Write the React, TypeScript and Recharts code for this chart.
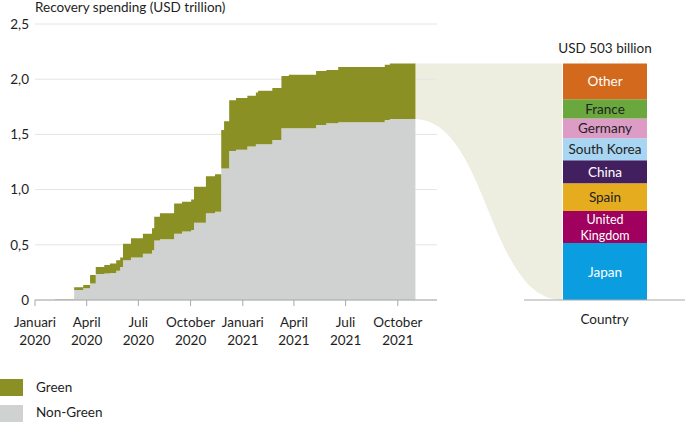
import React from "react";
import {
  ComposedChart,
  Area,
  XAxis,
  YAxis,
  CartesianGrid,
  BarChart,
  Bar,
  LabelList,
} from "recharts";

// cumulative recovery spending, USD trillion (step dates)
const dates = [
  "2020-02-05", "2020-03-10", "2020-03-26", "2020-04-07", "2020-04-17",
  "2020-05-02", "2020-05-12", "2020-05-23", "2020-05-30", "2020-06-04",
  "2020-06-18", "2020-07-09", "2020-07-25", "2020-07-29", "2020-08-08",
  "2020-09-02", "2020-09-16", "2020-10-02", "2020-10-07", "2020-10-28",
  "2020-11-13", "2020-11-24", "2020-11-29", "2020-12-08", "2020-12-20",
  "2021-01-09", "2021-01-24", "2021-01-28", "2021-02-22", "2021-03-10",
  "2021-03-23", "2021-05-10", "2021-05-28", "2021-06-18", "2021-09-08",
  "2021-09-17", "2021-11-01",
];
const nonGreen = [
  0.004, 0.09, 0.106, 0.15, 0.235,
  0.24, 0.245, 0.265, 0.3, 0.36,
  0.385, 0.42, 0.45, 0.54, 0.55,
  0.6, 0.62, 0.635, 0.7, 0.785,
  0.8, 1.19, 1.19, 1.35, 1.36,
  1.39, 1.41, 1.41, 1.45, 1.555,
  1.555, 1.585, 1.6, 1.61, 1.63,
  1.64, 1.64,
];
const green = [
  0.002, 0.025, 0.03, 0.076, 0.065,
  0.077, 0.085, 0.095, 0.085, 0.15,
  0.175, 0.18, 0.2, 0.215, 0.235,
  0.275, 0.27, 0.275, 0.325, 0.335,
  0.34, 0.35, 0.43, 0.46, 0.47,
  0.46, 0.47, 0.485, 0.47, 0.475,
  0.485, 0.49, 0.483, 0.5, 0.5,
  0.503, 0.503,
];

const axisStart = "2020-01-01";
const axisEnd = "2021-12-09";
const tickDates = [
  "2020-01-01", "2020-04-01", "2020-07-01", "2020-10-01",
  "2021-01-01", "2021-04-01", "2021-07-01", "2021-10-01",
];
const tickMonths = ["Januari", "April", "Juli", "October", "Januari", "April", "Juli", "October"];
const tickYears = ["2020", "2020", "2020", "2020", "2021", "2021", "2021", "2021"];
const yTicks = [0, 0.5, 1, 1.5, 2, 2.5];

// green spending by country, USD billion (bottom to top)
const countries = ["Japan", "United Kingdom", "Spain", "China", "South Korea", "Germany", "France", "Other"];
const countryValues = [121, 68, 59, 49, 47, 42, 41, 76];
const countryColors = ["#0a9ee0", "#a0005e", "#e6ac20", "#42205f", "#a8d5f2", "#dd9cc6", "#6aa83e", "#d2691c"];
const countryText = ["#fff", "#fff", "#222", "#fff", "#222", "#222", "#222", "#fff"];

const GREEN = "#8a9023";
const GREY = "#d0d2d1";
const BEIGE = "#eeeee0";
const TEXT = "#1e1e1e";
const AXIS = "#a8a8a8";
const FONT = "Lato, sans-serif";
const FS = 13.5;

const day = (s: string) => (Date.parse(s) - Date.parse(axisStart)) / 86400000;

const areaData = dates.map((d, i) => ({ t: day(d), nonGreen: nonGreen[i], green: green[i] }));
const tickDays = tickDates.map(day);

const lastNonGreen = nonGreen[nonGreen.length - 1];
const lastTotal = lastNonGreen + green[green.length - 1];
const greenTotal = countryValues.reduce((a, b) => a + b, 0);

const barRow: Record<string, number | string> = { name: "Country" };
countries.forEach((c, i) => (barRow[c] = countryValues[i]));
const barData = [barRow];

// funnel between the last step of the area and the bar
const funnelData = [
  { x: 0, range: [lastNonGreen, lastTotal] },
  { x: 1, range: [0, lastTotal] },
];

// layout
const CH = 360;
const TOP = 24;
const X_AXIS_H = 60;
const LEFT_W = 445;
const Y_AXIS_W = 35;
const LEFT_MR = 8;
const BAR_LEFT = 500;
const BAR_W = 185;
const BAR_ML = 24;
const BAR_SIZE = 84;

const plotW = LEFT_W - Y_AXIS_W - LEFT_MR;
const funnelLeft = Y_AXIS_W + (day(dates[dates.length - 1]) / day(axisEnd)) * plotW;
const funnelRight = BAR_LEFT + BAR_ML + (BAR_W - BAR_ML - BAR_SIZE) / 2;

const DateTick = (props: any) => {
  const { x, y, payload } = props;
  const i = tickDays.indexOf(payload.value);
  return (
    <g>
      <text x={x} y={y + 19} textAnchor="middle" fontSize={FS} fill={TEXT}>
        {tickMonths[i]}
      </text>
      <text x={x} y={y + 37} textAnchor="middle" fontSize={FS} fill={TEXT}>
        {tickYears[i]}
      </text>
    </g>
  );
};

const countryLabel = (idx: number) => (props: any) => {
  const { x, y, width, height } = props;
  const cx = x + width / 2;
  const cy = y + height / 2;
  const name = countries[idx];
  if (name === "United Kingdom") {
    return (
      <text x={cx} y={cy - 3} textAnchor="middle" fontSize={12.5} fill={countryText[idx]}>
        <tspan x={cx}>United</tspan>
        <tspan x={cx} dy={15.5}>Kingdom</tspan>
      </text>
    );
  }
  return (
    <text
      x={cx}
      y={cy}
      textAnchor="middle"
      dominantBaseline="central"
      fontSize={FS}
      fill={countryText[idx]}
    >
      {name}
    </text>
  );
};

const totalLabel = (props: any) => {
  const { x, y, width } = props;
  return (
    <text x={x + width / 2} y={y - 10} textAnchor="middle" fontSize={FS} fill={TEXT}>
      {`USD ${greenTotal} billion`}
    </text>
  );
};

export default function App() {
  return (
    <div style={{ position: "relative", width: 685, height: 422, fontFamily: FONT, overflow: "hidden" }}>
      <style>{"body{margin:0}"}</style>

      <div style={{ position: "absolute", left: funnelLeft - 1, top: TOP, width: funnelRight - funnelLeft + 1 }}>
        <ComposedChart
          width={funnelRight - funnelLeft + 1}
          height={CH - TOP - X_AXIS_H}
          data={funnelData}
          margin={{ top: 0, right: 0, bottom: 0, left: 0 }}
        >
          <XAxis dataKey="x" type="number" domain={[0, 1]} hide />
          <YAxis type="number" domain={[0, 2.5]} hide />
          <Area
            dataKey="range"
            type="bumpX"
            fill={BEIGE}
            fillOpacity={1}
            stroke="none"
            isAnimationActive={false}
          />
        </ComposedChart>
      </div>

      <div style={{ position: "absolute", left: 0, top: 0 }}>
        <ComposedChart
          width={LEFT_W}
          height={CH}
          data={areaData}
          margin={{ top: TOP, right: LEFT_MR, bottom: 0, left: 0 }}
        >
          <CartesianGrid vertical={false} stroke="#e4e4e4" />
          <XAxis
            dataKey="t"
            type="number"
            domain={[0, day(axisEnd)]}
            ticks={tickDays}
            interval={0}
            height={X_AXIS_H}
            stroke={AXIS}
            tickSize={6}
            tick={<DateTick />}
          />
          <YAxis
            domain={[0, 2.5]}
            ticks={yTicks}
            width={Y_AXIS_W}
            axisLine={false}
            tickLine={false}
            tickSize={4}
            tickMargin={2}
            tick={{ fontSize: FS, fill: TEXT }}
            tickFormatter={(v: number) => (v === 0 ? "0" : v.toFixed(1).replace(".", ","))}
          />
          <Area
            dataKey="nonGreen"
            stackId="s"
            type="stepAfter"
            fill={GREY}
            fillOpacity={1}
            stroke="none"
            isAnimationActive={false}
          />
          <Area
            dataKey="green"
            stackId="s"
            type="stepAfter"
            fill={GREEN}
            fillOpacity={1}
            stroke="none"
            isAnimationActive={false}
          />
        </ComposedChart>
      </div>

      <div style={{ position: "absolute", left: BAR_LEFT, top: 0 }}>
        <BarChart
          width={BAR_W}
          height={CH}
          data={barData}
          margin={{ top: TOP, right: 0, bottom: 0, left: BAR_ML }}
        >
          <XAxis
            dataKey="name"
            height={X_AXIS_H}
            stroke={AXIS}
            tickLine={false}
            tickMargin={8}
            tick={{ fontSize: FS, fill: TEXT }}
          />
          <YAxis hide domain={[0, (greenTotal * 2.5) / lastTotal]} />
          {countries.map((c, i) => (
            <Bar
              key={c}
              dataKey={c}
              stackId="c"
              fill={countryColors[i]}
              barSize={BAR_SIZE}
              isAnimationActive={false}
            >
              <LabelList dataKey={c} content={countryLabel(i)} />
              {i === countries.length - 1 && <LabelList dataKey={c} content={totalLabel} />}
            </Bar>
          ))}
        </BarChart>
      </div>

      <svg width={685} height={422} style={{ position: "absolute", left: 0, top: 0, pointerEvents: "none" }}>
        <text x={35} y={12} fontSize={FS} fill={TEXT}>
          Recovery spending (USD trillion)
        </text>
        <rect x={0} y={379} width={23} height={17} fill={GREEN} />
        <text x={36} y={392} fontSize={FS} fill={TEXT}>
          Green
        </text>
        <rect x={0} y={405} width={23} height={17} fill={GREY} />
        <text x={36} y={417} fontSize={FS} fill={TEXT}>
          Non-Green
        </text>
      </svg>
    </div>
  );
}
